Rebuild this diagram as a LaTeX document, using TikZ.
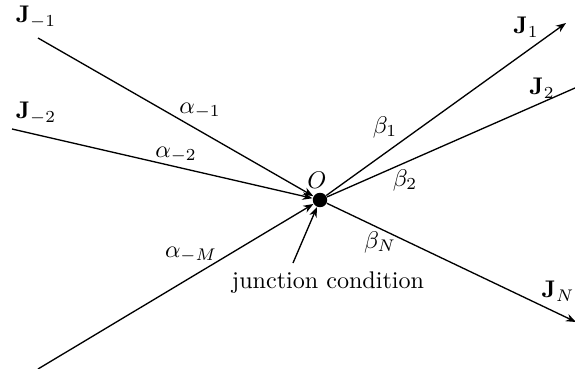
\documentclass[tikz,border=0pt]{standalone}
\usepackage{amsmath,bm}
\usetikzlibrary{arrows.meta}
\begin{document}
\begin{tikzpicture}[x=0.415pt,y=-0.415pt,
  edge/.style={line width=0.55pt},
  arr/.style={edge,-{Stealth[length=4.2pt,width=3.2pt]}},
  lab/.style={inner sep=0pt,font=\normalsize}]
\useasboundingbox (0,0) rectangle (575,369);
\node[circle,fill=black,inner sep=0pt,minimum size=6pt] (O) at (320,200) {};
\coordinate (m1) at (38,38);
\coordinate (m2) at (12,129);
\coordinate (mM) at (38,369);
\coordinate (p1) at (566,23);
\coordinate (p2) at (575,88);
\coordinate (pN) at (576,322);
\coordinate (jcs) at (293,263);
\draw[arr] (m1) -- (O);
\draw[arr] (m2) -- (O);
\draw[arr] (mM) -- (O);
\draw[arr] (O) -- (p1);
\draw[edge] (O) -- (p2);
\draw[arr] (O) -- (pN);
\draw[arr] (jcs) -- (O);
\node[lab] (Jm1) at (36,17) {$\mathbf{J}_{-1}$};
\node[lab] (Jm2) at (36,113) {$\mathbf{J}_{-2}$};
\node[lab] (J1) at (526,27) {$\mathbf{J}_{1}$};
\node[lab] (J2) at (542,88) {$\mathbf{J}_{2}$};
\node[lab] (JN) at (558,291) {$\mathbf{J}_{N}$};
\node[lab] (am1) at (200,111) {$\alpha_{-1}$};
\node[lab] (am2) at (176,155) {$\alpha_{-2}$};
\node[lab] (amM) at (191,255) {$\alpha_{-M}$};
\node[lab] (b1) at (385,127) {$\beta_{1}$};
\node[lab] (b2) at (405,180) {$\beta_{2}$};
\node[lab] (bN) at (380,242) {$\beta_{N}$};
\node[lab] (Olab) at (317,180) {$O$};
\node[lab] (jc) at (328,283) {junction condition};
\end{tikzpicture}
\end{document}
